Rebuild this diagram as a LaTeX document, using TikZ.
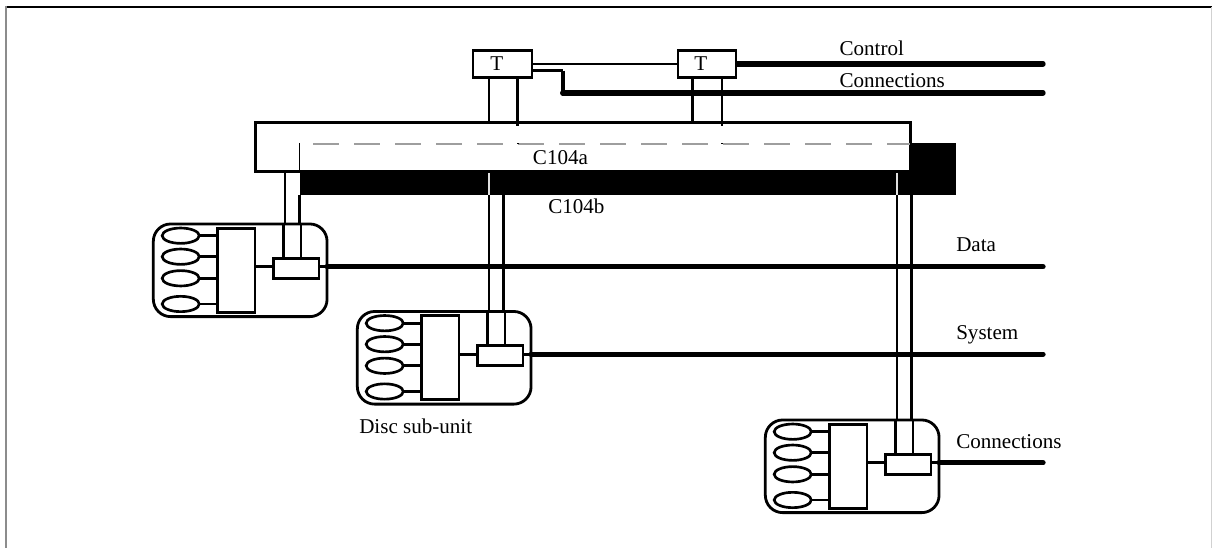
\documentclass[tikz,border=0pt]{standalone}
\usetikzlibrary{shapes.geometric}
\usepackage{fontspec}
\setmainfont{Liberation Serif}
\tikzset{
  leadl/.style={line width=2pt,draw=black},
  linkl/.style={line width=2.2pt,draw=black},
  thickl/.style={line width=4pt,draw=black,line cap=round},
  boxn/.style={draw=black,line width=#1,fill=white,inner sep=0pt,outer sep=0pt},
  boxn/.default=2.1pt,
  blackn/.style={draw=none,fill=black,inner sep=0pt,outer sep=0pt},
  discn/.style={draw=black,line width=2pt,fill=white,ellipse,inner sep=0pt,outer sep=0pt,minimum width=27.8pt,minimum height=11.5pt},
  lab/.style={font=\fontsize{15.8pt}{18pt}\selectfont,inner sep=0pt,anchor=base west,text=black}
}
\newcommand{\discunit}[3]{%
  \begin{scope}[shift={(#2,#3)}]
    \node[boxn,rounded corners=13pt,minimum width=130.3pt,minimum height=69.5pt] (#1u) at (240.2,270.3) {};
    \node[boxn,minimum width=28pt,minimum height=63pt] (#1b) at (236.3,270.3) {};
    \node[boxn,minimum width=34.3pt,minimum height=15pt] (#1s) at (296.2,268.3) {};
    \node[discn] (#1e1) at (180.7,235.7) {};
    \node[discn] (#1e2) at (180.7,256.7) {};
    \node[discn] (#1e3) at (180.7,278.3) {};
    \node[discn] (#1e4) at (180.7,304) {};
    \coordinate (#1lk) at (255,266.7);
    \coordinate (#1la) at (285,224);
    \coordinate (#1ra) at (299.3,224);
    \coordinate (#1li) at (283.3,224);
    \coordinate (#1ri) at (301,224);
  \end{scope}
  \draw[linkl] (#1e1.east) -- (#1e1.east -| #1b.west);
  \draw[linkl] (#1e2.east) -- (#1e2.east -| #1b.west);
  \draw[linkl] (#1e3.east) -- (#1e3.east -| #1b.west);
  \draw[linkl] (#1e4.east) -- (#1e4.east -| #1b.west);
  \draw[linkl] (#1lk) -- (#1lk -| #1s.west);
  \draw[linkl] (#1li) -- (#1li |- #1s.north);
  \draw[linkl] (#1ri) -- (#1ri |- #1s.north);
  \draw[linkl] (#1lk -| #1s.east) -- (#1lk -| #1u.east);
}
\begin{document}
\begin{tikzpicture}[x=0.75pt,y=-0.75pt]
\useasboundingbox (0,0) rectangle (1212,548);
% frame
\draw[line width=1.1pt,black] (6,7) -- (1212,7);
\draw[line width=1.5pt,gray!90] (5.8,6.5) -- (5.8,548);
\draw[line width=0.8pt,black!18] (1211.5,7.5) -- (1211.5,548);
% bus bar and main box
\node[blackn,minimum width=492pt,minimum height=18.75pt] (bar) at (627.5,182.5) {};
\node[blackn,minimum width=34.5pt,minimum height=39pt] (barend) at (933,169) {};
\node[boxn=2.2pt,minimum width=491.2pt,minimum height=36.8pt] (main) at (582.8,147.2) {};
\coordinate (dashs) at (313,143.7);
\draw[line width=1.3pt,black!38,dash pattern=on 19.5pt off 11.25pt] (dashs) -- (dashs -| main.east);
\coordinate (tick) at (299.3,143);
\draw[line width=1pt,black] (tick) -- (tick |- main.south);
% top bus lines
\coordinate (ctrlend) at (1043,64);
\coordinate (cj1) at (562.7,70.7);
\coordinate (cj2) at (562.7,93);
\coordinate (connend) at (1043,93);
\draw[thickl] (707,64) -- (ctrlend);
\draw[thickl] (cj2) -- (connend);
\draw[line width=3.2pt,black,line join=round] (cj1) -- (cj2);
\node[boxn,minimum width=44.2pt,minimum height=20.2pt] (t1) at (502.5,64) {};
\node[boxn,minimum width=43.5pt,minimum height=20.2pt] (t2) at (707,64) {};
\draw[linkl] (t1.east) -- (t2.west);
\draw[linkl] (t1.east |- cj1) -- (cj1);
\node[lab] (tlab1) at (490,70.7) {T};
\node[lab] (tlab2) at (694,70.7) {T};
% T leads
\coordinate (a1) at (489,122.7);
\coordinate (a2) at (517.7,126);
\coordinate (a3) at (692.7,122.7);
\coordinate (a4) at (722,126);
\draw[leadl] (t1.south -| a1) -- (a1);
\draw[leadl] (t1.south -| a2) -- (a2);
\draw[leadl] (t2.south -| a3) -- (a3);
\draw[leadl] (t2.south -| a4) -- (a4);
\draw[line width=1.1pt,black] (517,143.7) -- (519,143.7);
\draw[line width=1.1pt,black] (721.3,143.7) -- (723.3,143.7);
% bus ends
\coordinate (dataend) at (1043,266.7);
\coordinate (sysend) at (1043,354.2);
\coordinate (conn2end) at (1043,462.7);
\discunit{p}{0}{0}
\discunit{q}{204}{87.5}
\discunit{r}{612}{196}
\draw[thickl] (plk -| pu.east) -- (dataend);
\draw[thickl] (qlk -| qu.east) -- (sysend);
\draw[thickl] (rlk -| ru.east) -- (conn2end);
% leads from the buses
\draw[leadl] (main.south -| pla) -- (pla);
\draw[leadl] (bar.south -| pra) -- (pra);
\draw[line width=1.3pt,white!88!black] (bar.north -| qla) ++(0,3) -- (bar.south -| qla);
\draw[leadl] (bar.south -| qla) -- (qla);
\draw[leadl] (bar.south -| qra) -- (qra);
\draw[line width=1.3pt,white!88!black] (bar.north -| rla) ++(0,3) -- (bar.south -| rla);
\draw[leadl] (bar.south -| rla) -- (rla);
\draw[leadl] (bar.south -| rra) -- (rra);
% labels
\node[lab] (lctrl) at (839.3,56) {Control};
\node[lab] (lconn) at (839.3,87.3) {Connections};
\node[lab] (lca) at (532.7,165) {C104a};
\node[lab] (lcb) at (548,214) {C104b};
\node[lab] (ldata) at (956,251.7) {Data};
\node[lab] (lsys) at (956,339.3) {System};
\node[lab] (lconn2) at (956,448.3) {Connections};
\node[lab] (ldisc) at (359,433) {Disc sub-unit};
\end{tikzpicture}
\end{document}
